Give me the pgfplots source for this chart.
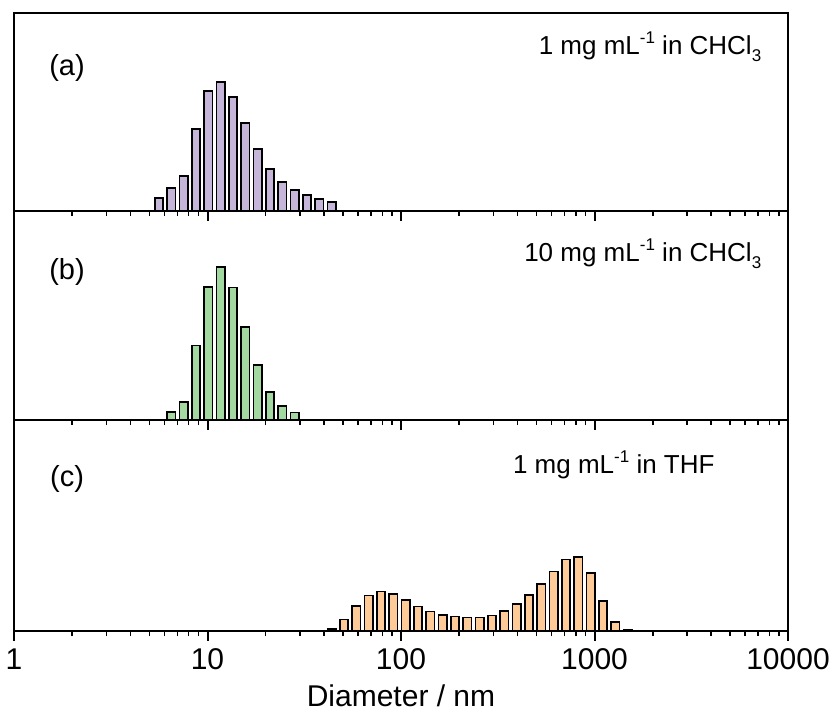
\documentclass[border=0pt]{standalone}
\usepackage{pgfplots}
\pgfplotsset{compat=1.18}
\usepackage{fontspec}
\setmainfont{Liberation Sans}
\definecolor{cpurple}{RGB}{196,181,217}
\definecolor{cgreen}{RGB}{163,217,160}
\definecolor{corange}{RGB}{253,202,152}
\newcommand{\ann}[2]{#1 mg mL\raisebox{0.42em}{\fontsize{17}{17}\selectfont -1} in #2}
\begin{document}
\begin{tikzpicture}
\useasboundingbox (-14pt,-84pt) rectangle (820pt,631pt);
% (a)
\begin{axis}[xmode=log, log basis x=10, xmin=1, xmax=10000,
    scale only axis, width=774pt, height=198pt, ymin=0, ymax=198, ytick=\empty,
    xtick={1,10,100,1000,10000},
    minor xtick={2,3,4,5,6,7,8,9,20,30,40,50,60,70,80,90,200,300,400,500,600,700,800,900,2000,3000,4000,5000,6000,7000,8000,9000},
    major tick length=10pt, minor tick length=5pt,
    every major tick/.append style={line width=2pt, black},
    every minor tick/.append style={line width=1.5pt, black},
    axis line style={line width=2pt},
    xtick pos=bottom, tick align=outside, xtick align=outside,
    clip=false, at={(0pt,420pt)}, anchor=south west, xticklabels={}]
\addplot[ybar, bar width=8.5pt, draw=black, line width=1.6pt, fill=cpurple] coordinates {(5.615,13)(6.503,23)(7.531,35)(8.721,82)(10.1,120)(11.7,129)(13.54,114)(15.69,88)(18.17,62)(21.04,42)(24.36,29)(28.21,21)(32.67,16)(37.84,12)(43.82,9)};
\node[font=\fontsize{29}{29}\selectfont] at (axis description cs:0.0685,0.72) {(a)};
\node[anchor=base east, font=\fontsize{26}{26}\selectfont] at (axis description cs:0.970,0.79) {\ann{1}{CHCl\raisebox{-0.28em}{\fontsize{17}{17}\selectfont 3}}};
\end{axis}
% (b)
\begin{axis}[xmode=log, log basis x=10, xmin=1, xmax=10000,
    scale only axis, width=774pt, height=209pt, ymin=0, ymax=209, ytick=\empty,
    xtick={1,10,100,1000,10000},
    minor xtick={2,3,4,5,6,7,8,9,20,30,40,50,60,70,80,90,200,300,400,500,600,700,800,900,2000,3000,4000,5000,6000,7000,8000,9000},
    major tick length=10pt, minor tick length=5pt,
    every major tick/.append style={line width=2pt, black},
    every minor tick/.append style={line width=1.5pt, black},
    axis line style={line width=2pt},
    xtick pos=bottom, tick align=outside, xtick align=outside,
    clip=false, at={(0pt,211pt)}, anchor=south west, xticklabels={}]
\addplot[ybar, bar width=8.5pt, draw=black, line width=1.6pt, fill=cgreen] coordinates {(6.503,8.3)(7.531,18)(8.721,74.3)(10.1,133)(11.7,152.7)(13.54,132.3)(15.69,93)(18.17,55)(21.04,28)(24.36,14)(28.21,7.7)};
\node[font=\fontsize{29}{29}\selectfont] at (axis description cs:0.0685,0.71) {(b)};
\node[anchor=base east, font=\fontsize{26}{26}\selectfont] at (axis description cs:0.970,0.76) {\ann{10}{CHCl\raisebox{-0.28em}{\fontsize{17}{17}\selectfont 3}}};
\end{axis}
% (c)
\begin{axis}[xmode=log, log basis x=10, xmin=1, xmax=10000,
    scale only axis, width=774pt, height=211pt, ymin=0, ymax=211, ytick=\empty,
    xtick={1,10,100,1000,10000},
    minor xtick={2,3,4,5,6,7,8,9,20,30,40,50,60,70,80,90,200,300,400,500,600,700,800,900,2000,3000,4000,5000,6000,7000,8000,9000},
    major tick length=10pt, minor tick length=5pt,
    every major tick/.append style={line width=2pt, black},
    every minor tick/.append style={line width=1.5pt, black},
    axis line style={line width=2pt},
    xtick pos=bottom, tick align=outside, xtick align=outside,
    clip=false, at={(0pt,0pt)}, anchor=south west,
    xticklabels={1,10,100,1000,10000},
    xticklabel style={font=\fontsize{30}{30}\selectfont, yshift=-4pt},
    xlabel={Diameter / nm},
    xlabel style={font=\fontsize{30}{30}\selectfont, yshift=-8pt}]
\addplot[ybar, bar width=8.5pt, draw=black, line width=1.6pt, fill=corange] coordinates {(43.82,2.3)(50.75,11.7)(58.77,25.3)(68.06,35.7)(78.82,39.7)(91.28,37)(105.7,31)(122.4,24.7)(141.8,19.7)(164.2,16)(190.1,14.7)(220.2,13.7)(255.0,13.7)(295.3,15.7)(342.0,20.3)(396.1,27.3)(458.7,36.3)(531.2,47.3)(615.1,59.7)(712.4,71.7)(825.0,74.3)(955.4,58)(1106,30.3)(1281,9)(1484,1.5)};
\node[font=\fontsize{29}{29}\selectfont] at (axis description cs:0.0685,0.72) {(c)};
\node[anchor=base east, font=\fontsize{26}{26}\selectfont] at (axis description cs:0.9096,0.745) {\ann{1}{THF}};
\end{axis}
\end{tikzpicture}
\end{document}
